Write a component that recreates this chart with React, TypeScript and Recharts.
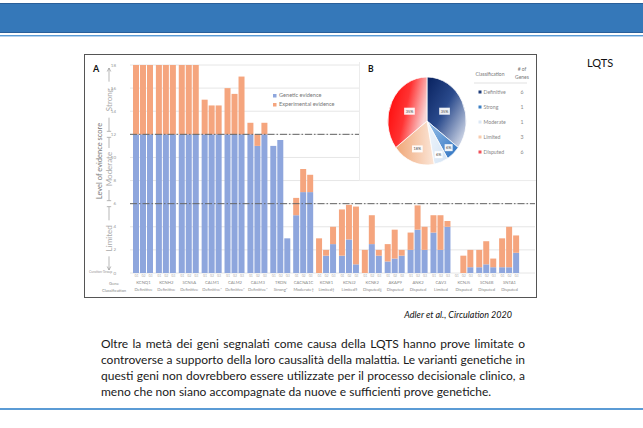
import { BarChart, Bar, XAxis, YAxis, CartesianGrid, ReferenceLine, ReferenceArea, PieChart, Pie, Cell } from 'recharts';

const genes = ['KCNQ1', 'KCNH2', 'SCN5A', 'CALM1', 'CALM2', 'CALM3', 'TRDN', 'CACNA1C', 'KCNE1', 'KCNJ2', 'KCNE2', 'AKAP9', 'ANK2', 'CAV3', 'KCNJ5', 'SCN4B', 'SNTA1'];
const classifications = ['Definitive', 'Definitive', 'Definitive', 'Definitive*', 'Definitive*', 'Definitive*', 'Strong*', 'Moderate†', 'Limited‡', 'Limited§', 'Disputed‖', 'Disputed', 'Disputed', 'Limited', 'Disputed', 'Disputed', 'Disputed'];
const curationGroups = ['G1', 'G2', 'G3'];

// genetic / experimental evidence score per curation group
const geneticG1 = [12, 12, 12, 12, 12, 12, 11, 5, 0, 1.5, 0, 1, 2, 3.5, 0, 0.5, 0.5];
const experimentalG1 = [6, 6, 6, 3, 4, 1, 0, 1.5, 3, 4, 2, 1.5, 1.5, 1.5, 0, 1.5, 2.5];
const geneticG2 = [12, 12, 12, 12, 12, 11, 11.5, 7, 1.5, 2.9, 2.5, 1.25, 3.75, 2, 0, 0.75, 0.5];
const experimentalG2 = [6, 6, 6, 2.5, 3.5, 1, 0, 2, 0.5, 3, 2.5, 2.5, 2.1, 3, 1.5, 2, 3.5];
const geneticG3 = [12, 12, 12, 12, 12, 12, 3, 7, 2.5, 0.75, 1.5, 1.5, 2, 4, 0.5, 0.5, 1.75];
const experimentalG3 = [6, 6, 6, 2.5, 5, 1, 0, 1.5, 1.5, 5, 0.5, 0.5, 2, 0.5, 1.5, 0.75, 1.5];

const yTicks = [0, 2, 4, 6, 8, 10, 12, 14, 16, 18];
const legendNames = ['Genetic evidence', 'Experimental evidence'];

const pieClasses = ['Definitive', 'Strong', 'Moderate', 'Limited', 'Disputed'];
const pieCounts = [6, 1, 1, 3, 6];
const pieLabels = ['35%', '6%', '6%', '18%', '35%'];

const BLUE = '#8ea6dd';
const ORANGE = '#f5a57e';
const pieFills = ['url(#pieDef)', 'url(#pieStrong)', 'url(#pieMod)', 'url(#pieLim)', 'url(#pieDis)'];
const markerColors = ['#1f3c7a', '#3b7fc4', '#dce8f5', '#f8cbad', '#f0505a'];
const labelRadius = [0.5, 0.82, 0.82, 0.68, 0.5];
const FONT = 'Lato, "Liberation Sans", sans-serif';

const barData = genes.map((gene, i) => ({
  gene,
  g1: geneticG1[i],
  e1: experimentalG1[i],
  g2: geneticG2[i],
  e2: experimentalG2[i],
  g3: geneticG3[i],
  e3: experimentalG3[i],
}));

const pieData = pieClasses.map((name, i) => ({ name, value: pieCounts[i] }));

function GeneTick(props: any) {
  const { x, y, payload } = props;
  const i = payload.index;
  return (
    <g fontFamily={FONT}>
      {curationGroups.map((g, k) => (
        <text key={g} x={x + (k - 1) * 7} y={y + 4} fontSize={3} fill="#aaa" textAnchor="middle">{g}</text>
      ))}
      <text x={x} y={y + 10.5} fontSize={4.2} fill="#888" textAnchor="middle">{genes[i]}</text>
      <text x={x} y={y + 17.5} fontSize={4.2} fill="#888" textAnchor="middle">{classifications[i]}</text>
    </g>
  );
}

function BandLabel(props: any) {
  const { viewBox, text, len, top, bottom } = props;
  if (!viewBox) return null;
  const { x, y, height } = viewBox;
  const cx = x - 23;
  const cy = y + height / 2;
  const half = len / 2 + 3;
  const y1 = y + 3;
  const y2 = y + height - 3;
  const deco = (kind: string, yy: number, dir: number) =>
    kind === 'arrow' ? (
      <polyline points={`${cx - 1.8},${yy + dir * 3.5} ${cx},${yy} ${cx + 1.8},${yy + dir * 3.5}`} fill="none" stroke="#9a9a9a" strokeWidth={0.7} />
    ) : (
      <line x1={cx - 2.2} y1={yy} x2={cx + 2.2} y2={yy} stroke="#9a9a9a" strokeWidth={0.7} />
    );
  return (
    <g>
      <text x={cx} y={cy} transform={`rotate(-90 ${cx} ${cy})`} textAnchor="middle" dominantBaseline="central" fontSize={8} fill="#aaa" fontFamily={FONT}>{text}</text>
      <line x1={cx} y1={y1} x2={cx} y2={cy - half} stroke="#9a9a9a" strokeWidth={0.7} />
      <line x1={cx} y1={cy + half} x2={cx} y2={y2} stroke="#9a9a9a" strokeWidth={0.7} />
      {deco(top, y1, 1)}
      {deco(bottom, y2, -1)}
    </g>
  );
}

function AxisTitle(props: any) {
  const { viewBox } = props;
  if (!viewBox) return null;
  const cx = viewBox.x - 33;
  const cy = viewBox.y + viewBox.height / 2 - 8;
  return (
    <text x={cx} y={cy} transform={`rotate(-90 ${cx} ${cy})`} textAnchor="middle" dominantBaseline="central" fontSize={7.5} fill="#777" fontFamily={FONT}>
      Level of evidence score
    </text>
  );
}

const RAD = Math.PI / 180;
function PieLabel(props: any) {
  const { cx, cy, midAngle, outerRadius, index } = props;
  const r = outerRadius * labelRadius[index];
  const x = cx + r * Math.cos(-midAngle * RAD);
  const y = cy + r * Math.sin(-midAngle * RAD);
  const w = pieLabels[index].length > 2 ? 12 : 9;
  return (
    <g>
      <rect x={x - w / 2} y={y - 3.5} width={w} height={7} fill="#fff" fillOpacity={0.92} />
      <text x={x} y={y} textAnchor="middle" dominantBaseline="central" fontSize={4.3} fill="#444" fontFamily={FONT}>{pieLabels[index]}</text>
    </g>
  );
}

function EvidenceChart() {
  return (
    <BarChart width={451} height={242} data={barData} margin={{ top: 10, right: 1, left: 33, bottom: 0 }} barSize={6} barGap={1} style={{ fontFamily: FONT }}>
      <CartesianGrid vertical={false} stroke="#e6e6e6" />
      <XAxis dataKey="gene" interval={0} tick={<GeneTick />} tickLine={false} axisLine={false} tickSize={0} tickMargin={0} height={24} padding={{ left: 2, right: 14 }} />
      <YAxis domain={[0, 18]} ticks={yTicks} width={12} axisLine={false} tickLine={false} tickMargin={8} tick={{ fontSize: 4.5, fill: '#999' }} />
      <ReferenceArea y1={0} y2={18} fill="transparent" fillOpacity={0} strokeOpacity={0} label={<AxisTitle />} />
      <ReferenceArea y1={12} y2={18} fill="transparent" fillOpacity={0} strokeOpacity={0} label={<BandLabel text="Strong" len={30} top="arrow" bottom="tee" />} />
      <ReferenceArea y1={6} y2={12} fill="transparent" fillOpacity={0} strokeOpacity={0} label={<BandLabel text="Moderate" len={36} top="tee" bottom="tee" />} />
      <ReferenceArea y1={0} y2={6} fill="transparent" fillOpacity={0} strokeOpacity={0} label={<BandLabel text="Limited" len={30} top="tee" bottom="arrow" />} />
      <Bar dataKey="g1" name="Genetic evidence" stackId="a" fill={BLUE} isAnimationActive={false} />
      <Bar dataKey="e1" name="Experimental evidence" stackId="a" fill={ORANGE} isAnimationActive={false} />
      <Bar dataKey="g2" stackId="b" fill={BLUE} isAnimationActive={false} />
      <Bar dataKey="e2" stackId="b" fill={ORANGE} isAnimationActive={false} />
      <Bar dataKey="g3" stackId="c" fill={BLUE} isAnimationActive={false} />
      <Bar dataKey="e3" stackId="c" fill={ORANGE} isAnimationActive={false} />
      <ReferenceLine y={12} stroke="#666" strokeDasharray="7 2 1.5 2" strokeWidth={1} />
      <ReferenceLine y={6} stroke="#666" strokeDasharray="7 2 1.5 2" strokeWidth={1} />
    </BarChart>
  );
}

function ClassPie() {
  return (
    <div style={{ position: 'absolute', left: 0, top: 0, width: 134, height: 118, transform: 'scaleX(0.89)', transformOrigin: '67px 59px' }}>
      <PieChart width={134} height={118} margin={{ top: 0, right: 0, bottom: 0, left: 0 }}>
        <defs>
          <linearGradient id="pieDef" x1="0" y1="0" x2="1" y2="1">
            <stop offset="0" stopColor="#08215e" />
            <stop offset="0.45" stopColor="#2a4a8c" />
            <stop offset="1" stopColor="#eef1f8" />
          </linearGradient>
          <linearGradient id="pieStrong" x1="0" y1="0" x2="1" y2="1">
            <stop offset="0" stopColor="#9cc3ea" />
            <stop offset="1" stopColor="#2a6fbf" />
          </linearGradient>
          <linearGradient id="pieMod" x1="0" y1="0" x2="1" y2="1">
            <stop offset="0" stopColor="#f3f7fc" />
            <stop offset="1" stopColor="#d3e3f4" />
          </linearGradient>
          <linearGradient id="pieLim" x1="0" y1="0" x2="1" y2="0">
            <stop offset="0" stopColor="#f0a676" />
            <stop offset="1" stopColor="#fbe6d8" />
          </linearGradient>
          <linearGradient id="pieDis" x1="0" y1="0" x2="1" y2="0.4">
            <stop offset="0" stopColor="#ff0000" />
            <stop offset="0.55" stopColor="#ff3333" />
            <stop offset="1" stopColor="#f9d4d4" />
          </linearGradient>
        </defs>
        <Pie
          data={pieData}
          dataKey="value"
          nameKey="name"
          cx={67}
          cy={59}
          outerRadius={44}
          startAngle={90}
          endAngle={-270}
          stroke="#fff"
          strokeWidth={0.8}
          label={PieLabel}
          labelLine={false}
          isAnimationActive={false}
        >
          {pieData.map((d, i) => (
            <Cell key={d.name} fill={pieFills[i]} />
          ))}
        </Pie>
      </PieChart>
    </div>
  );
}

function PieTable() {
  return (
    <svg width={177} height={118} style={{ position: 'absolute', left: 0, top: 0 }} fontFamily={FONT}>
      <text x={8} y={10} fontSize={8.5} fontWeight="bold" fill="#111">B</text>
      <text x={130} y={14} fontSize={5} fill="#777" textAnchor="middle">Classification</text>
      <text x={162} y={9} fontSize={5} fill="#777" textAnchor="middle"># of</text>
      <text x={162} y={17} fontSize={5} fill="#777" textAnchor="middle">Genes</text>
      <line x1={114} y1={21} x2={167} y2={21} stroke="#ccc" strokeWidth={0.6} />
      {pieClasses.map((c, i) => (
        <g key={c}>
          <rect x={118.5} y={30 + i * 15 - 1.5} width={3} height={3} fill={markerColors[i]} />
          <text x={123.5} y={30 + i * 15 + 1.8} fontSize={5.2} fill="#888">{c}</text>
          <text x={162} y={30 + i * 15 + 1.8} fontSize={5.2} fill="#888" textAnchor="middle">{pieCounts[i]}</text>
        </g>
      ))}
    </svg>
  );
}

function BarLegend() {
  return (
    <svg width={80} height={20} style={{ position: 'absolute', left: 187, top: 37 }} fontFamily={FONT}>
      {legendNames.map((n, i) => (
        <g key={n}>
          <rect x={1} y={2 + i * 9} width={3.5} height={3.5} fill={i === 0 ? BLUE : ORANGE} />
          <text x={7} y={5.3 + i * 9} fontSize={5.6} fill="#777">{n}</text>
        </g>
      ))}
    </svg>
  );
}

export default function App() {
  const lines = [
    'Oltre la metà dei geni segnalati come causa della LQTS hanno prove limitate o',
    'controverse a supporto della loro causalità della malattia. Le varianti genetiche in',
    'questi geni non dovrebbero essere utilizzate per il processo decisionale clinico, a',
    'meno che non siano accompagnate da nuove e sufficienti prove genetiche.',
  ];
  return (
    <div style={{ position: 'absolute', left: 0, top: 0, width: 643, height: 428, background: '#fff', overflow: 'hidden', fontFamily: FONT }}>
      <div style={{ position: 'absolute', left: 0, top: 3, width: 643, height: 28, background: '#3578b9', borderTop: '1px solid #2a5f99', borderBottom: '1px solid #2a5f99' }} />
      <div style={{ position: 'absolute', left: 0, top: 34.5, width: 643, height: 1.5, background: '#5b9bd5' }} />
      <div style={{ position: 'absolute', left: 0, top: 36, width: 643, height: 1, background: '#b6d3ee' }} />

      <div style={{ position: 'absolute', left: 85, top: 55, width: 451, height: 242, background: '#fff' }}>
        <EvidenceChart />
        <BarLegend />
        <div style={{ position: 'absolute', left: 8, top: 8, fontSize: 9, fontWeight: 'bold', color: '#111' }}>A</div>
        <div style={{ position: 'absolute', left: 4, top: 215, fontSize: 3.4, color: '#999', whiteSpace: 'nowrap' }}>Curation Group</div>
        <div style={{ position: 'absolute', left: 14, top: 225, width: 30, textAlign: 'center', fontSize: 4.2, color: '#888', lineHeight: '7px' }}>
          Gene<br />Classification
        </div>
        <div style={{ position: 'absolute', left: 274, top: 7, width: 177, height: 118, background: '#fff', borderLeft: '1px solid #ececec', borderBottom: '1px solid #ececec' }}>
          <ClassPie />
          <PieTable />
        </div>
        <div style={{ position: 'absolute', left: -1, top: -1, width: 451, height: 242, border: '1.2px solid #555', pointerEvents: 'none' }} />
      </div>

      <div style={{ position: 'absolute', left: 587, top: 56, fontSize: 11, color: '#111' }}>LQTS</div>
      <div style={{ position: 'absolute', left: 300, top: 309, width: 212, textAlign: 'right', fontSize: 9, fontStyle: 'italic', color: '#111' }}>
        Adler et al., Circulation 2020
      </div>
      <div style={{ position: 'absolute', left: 101, top: 336, width: 424, fontSize: 12, color: '#1a1a1a', lineHeight: '16px' }}>
        {lines.map((l, i) => (
          <div key={i} style={{ textAlign: 'justify', textAlignLast: i < lines.length - 1 ? 'justify' : 'left', whiteSpace: 'nowrap' }}>{l}</div>
        ))}
      </div>
      <div style={{ position: 'absolute', left: 0, top: 408, width: 643, height: 2, background: '#5b9bd5' }} />
    </div>
  );
}
